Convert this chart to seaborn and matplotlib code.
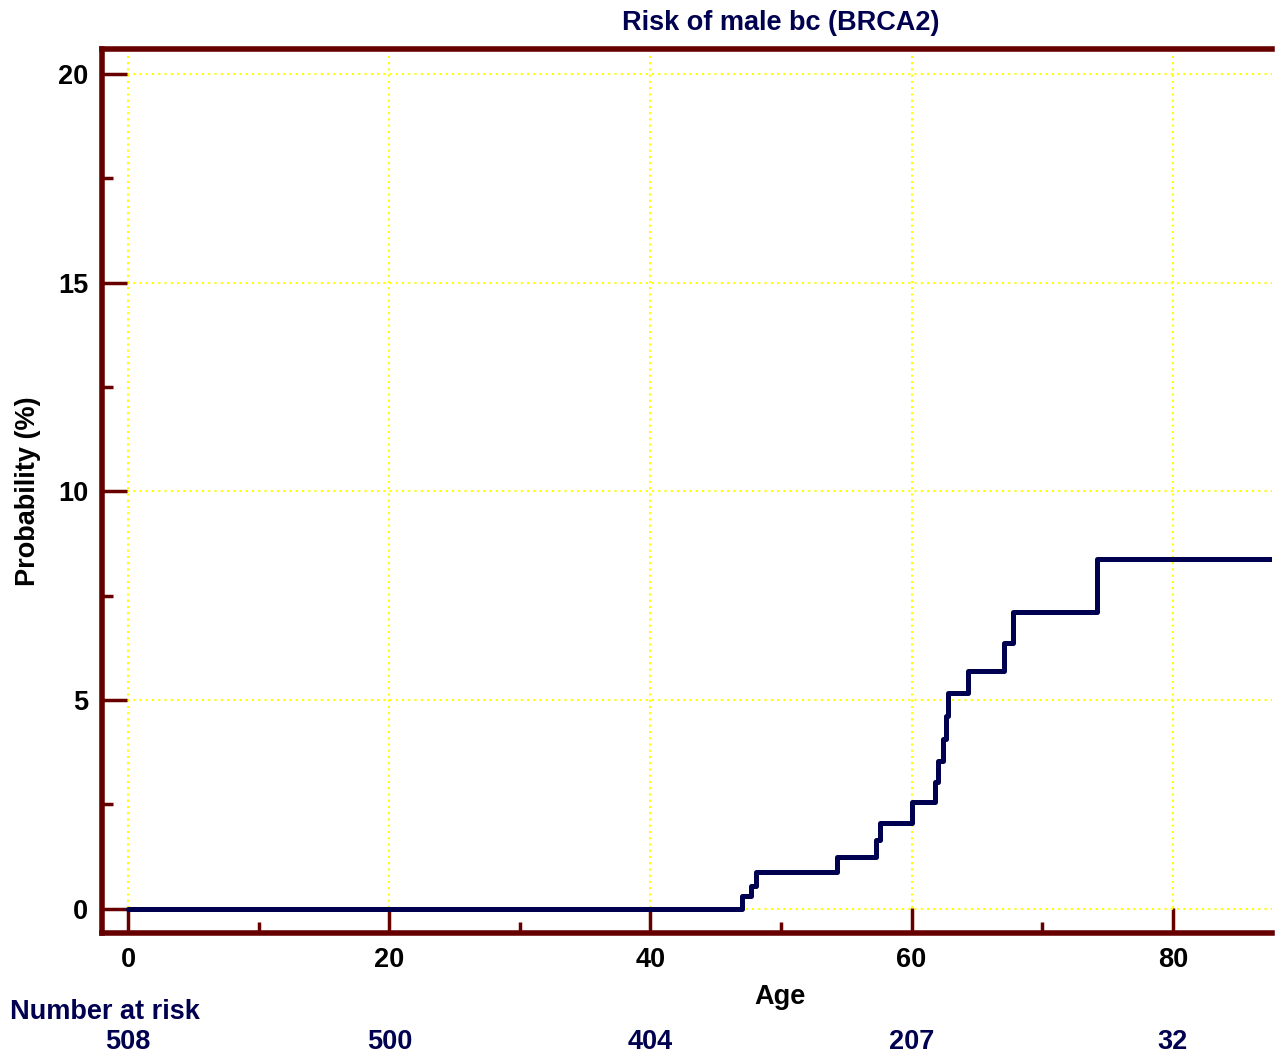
import matplotlib
matplotlib.use("Agg")
import matplotlib.pyplot as plt
import matplotlib.transforms as mtransforms
import seaborn as sns
import pandas as pd
from matplotlib.ticker import MultipleLocator

# Data
ages = [0, 47.0, 47.7, 48.1, 54.3, 57.3, 57.6, 60.0, 61.8, 62.0, 62.4, 62.6, 62.8, 64.3, 67.1, 67.8, 74.2, 88.0]
probs = [0.0, 0.31, 0.55, 0.89, 1.24, 1.65, 2.05, 2.56, 3.03, 3.53, 4.07, 4.62, 5.17, 5.70, 6.38, 7.11, 8.38, 8.38]
risk_ages = [0, 20, 40, 60, 80]
risk_numbers = [508, 500, 404, 207, 32]
title = "Risk of male bc (BRCA2)"

sns.set_theme(style="white")
plt.rcParams['font.family'] = ['Liberation Sans', 'DejaVu Sans']
plt.rcParams['font.weight'] = 'bold'

frame = "#660000"
navy = "#000050"
fs = 19.5

fig = plt.figure(figsize=(12.82, 10.57), dpi=100)
ax = fig.add_axes([0.0796, 0.1173, 0.9126, 0.8363])

df = pd.DataFrame({"Age": ages, "Probability": probs})
sns.lineplot(data=df, x="Age", y="Probability", drawstyle="steps-post",
             color=navy, linewidth=3.6, ax=ax)

ax.set_xlim(-2.0, 87.6)
ax.set_ylim(-0.58, 20.6)

ax.xaxis.set_major_locator(MultipleLocator(20))
ax.xaxis.set_minor_locator(MultipleLocator(10))
ax.yaxis.set_major_locator(MultipleLocator(5))
ax.yaxis.set_minor_locator(MultipleLocator(2.5))

ax.grid(True, which="major", color="#ffff00", linestyle=(0, (1, 2)), linewidth=1.5)
ax.set_axisbelow(True)

for s in ["left", "top", "bottom"]:
    ax.spines[s].set_visible(True)
    ax.spines[s].set_color(frame)
    ax.spines[s].set_linewidth(4)
ax.spines["right"].set_visible(False)

ax.tick_params(axis="both", which="major", direction="in", length=18, width=2.5,
               color=frame, labelsize=fs, labelcolor="black", pad=10)
ax.tick_params(axis="both", which="minor", direction="in", length=8, width=2.5,
               color=frame)
ax.tick_params(axis="x", which="both", bottom=True, top=False)
ax.tick_params(axis="y", which="both", left=True, right=False)
for lab in ax.get_xticklabels() + ax.get_yticklabels():
    lab.set_fontweight("bold")

ax.set_xlabel("Age", fontsize=fs, fontweight="bold", color="black")
ax.xaxis.set_label_coords((780 - 102) / 1170, -0.058)
ax.set_ylabel("Probability (%)", fontsize=fs, fontweight="bold", color="black", labelpad=12)
fig.text(0.609, 0.978, title, ha="center", va="center", fontsize=fs,
         fontweight="bold", color=navy)

trans = mtransforms.blended_transform_factory(ax.transData, fig.transFigure)
fig.text(0.008, 0.043, "Number at risk", ha="left", va="center", fontsize=fs,
         fontweight="bold", color=navy)
for a, n in zip(risk_ages, risk_numbers):
    ax.text(a, 0.014, str(n), transform=trans, ha="center", va="center",
            fontsize=fs, fontweight="bold", color=navy, clip_on=False)

fig.savefig("out.png", dpi=100, facecolor="white")
